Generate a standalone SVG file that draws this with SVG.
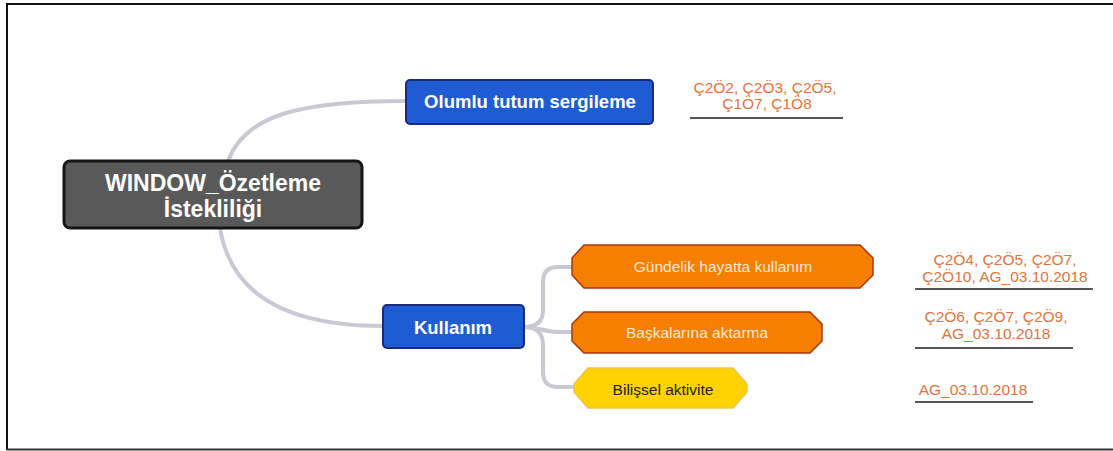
<svg xmlns="http://www.w3.org/2000/svg" width="1113" height="451" viewBox="0 0 1113 451">
  <style>
    .link { fill: none; stroke: #c9c9d6; stroke-width: 4; stroke-linecap: round; }
    .root { fill: #595959; stroke: #151515; stroke-width: 3; }
    .blue { fill: #1f5bd3; stroke: #1a2a7c; stroke-width: 2; }
    .orange { fill: #f77f00; stroke: #a8340c; stroke-width: 1.5; }
    .yellow { fill: #ffd200; stroke: #eec54a; stroke-width: 1.5; }
    .t-root { font-family: "Liberation Sans", Arial, sans-serif; font-size: 23px; font-weight: bold; fill: #ffffff; text-anchor: middle; }
    .t-blue { font-family: "Liberation Sans", Arial, sans-serif; font-size: 18.5px; font-weight: bold; fill: #ffffff; text-anchor: middle; }
    .t-orange { font-family: "Liberation Sans", Arial, sans-serif; font-size: 15.5px; fill: #fde8d6; text-anchor: middle; }
    .t-yellow { font-family: "Liberation Sans", Arial, sans-serif; font-size: 15.5px; fill: #222222; text-anchor: middle; }
    .ref { font-family: "Liberation Sans", Arial, sans-serif; font-size: 15.5px; fill: #e4733a; text-anchor: middle; }
    .uline { stroke: #555555; stroke-width: 2; }
  </style>

  <rect x="0" y="0" width="1113" height="451" fill="#ffffff"/>
  <!-- frame -->
  <path d="M7 450 V4 H1113" fill="none" stroke="#111111" stroke-width="2"/>
  <path d="M7 449.5 H1113" fill="none" stroke="#333333" stroke-width="2"/>

  <!-- connectors -->
  <g id="connectors">
    <path class="link" d="M228 161 C245 115 300 101 406 101"/>
    <path class="link" d="M220 228 C230 290 280 326 383 326"/>
    <path class="link" d="M524 327 Q543 327 543 310 V282 Q543 267 558 267 H574"/>
    <path class="link" d="M524 327 C538 327 545 332 560 332 H574"/>
    <path class="link" d="M524 327 Q543 327 543 345 V372 Q543 387 558 387 H576"/>
  </g>

  <g id="node-root">
    <rect class="root" x="64" y="161" width="298" height="67" rx="6"/>
    <text class="t-root" x="213" y="191">WINDOW_Özetleme</text>
    <text class="t-root" x="213" y="217">İstekliliği</text>
  </g>

  <g id="node-olumlu">
    <rect class="blue" x="406" y="80" width="247" height="44" rx="4"/>
    <text class="t-blue" x="530" y="108">Olumlu tutum sergileme</text>
  </g>

  <g id="node-kullanim">
    <rect class="blue" x="383" y="305" width="141" height="43" rx="4"/>
    <text class="t-blue" x="453" y="334">Kullanım</text>
  </g>

  <g id="node-gundelik">
    <polygon class="orange" points="584,245 860,245 873,258 873,275 860,288 584,288 572,275 572,258"/>
    <text class="t-orange" x="723" y="272">Gündelik hayatta kullanım</text>
  </g>

  <g id="node-baskalarina">
    <polygon class="orange" points="584,312 810,312 822,324 822,341 810,353 584,353 572,341 572,324"/>
    <text class="t-orange" x="697" y="338">Başkalarına aktarma</text>
  </g>

  <g id="node-bilissel">
    <polygon class="yellow" points="588,368 733,368 747,384 747,392 733,408 588,408 574,392 574,384"/>
    <text class="t-yellow" x="663" y="395">Bilişsel aktivite</text>
  </g>

  <!-- source notes -->
  <g id="note-olumlu">
    <text class="ref" x="765" y="93">Ç2Ö2, Ç2Ö3, Ç2Ö5,</text>
    <text class="ref" x="767" y="109">Ç1Ö7, Ç1Ö8</text>
    <line class="uline" x1="690" y1="118" x2="843" y2="118"/>
  </g>
  <g id="note-gundelik">
    <text class="ref" x="1005" y="265">Ç2Ö4, Ç2Ö5, Ç2Ö7,</text>
    <text class="ref" x="1005" y="282">Ç2Ö10, AG_03.10.2018</text>
    <line class="uline" x1="915" y1="289" x2="1093" y2="289"/>
  </g>
  <g id="note-baskalarina">
    <text class="ref" x="996" y="322">Ç2Ö6, Ç2Ö7, Ç2Ö9,</text>
    <text class="ref" x="996" y="339">AG_03.10.2018</text>
    <line class="uline" x1="915" y1="348" x2="1073" y2="348"/>
  </g>
  <g id="note-bilissel">
    <text class="ref" x="973" y="395">AG_03.10.2018</text>
    <line class="uline" x1="915" y1="402" x2="1033" y2="402"/>
  </g>
</svg>
